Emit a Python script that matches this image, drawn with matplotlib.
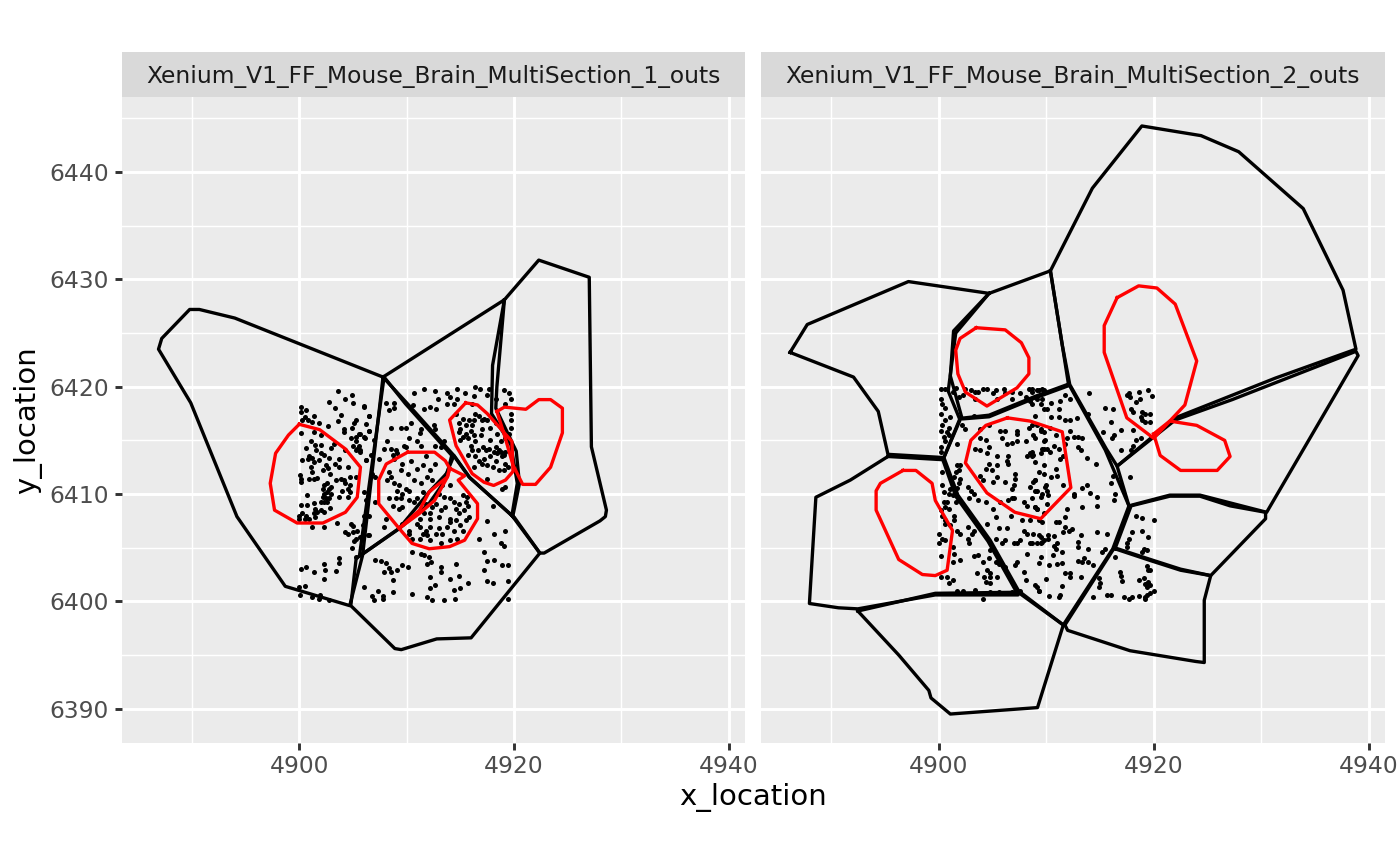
import matplotlib
matplotlib.use("Agg")
import matplotlib.pyplot as plt
from matplotlib.patches import Rectangle

panel_titles = [
    "Xenium_V1_FF_Mouse_Brain_MultiSection_1_outs",
    "Xenium_V1_FF_Mouse_Brain_MultiSection_2_outs",
]
x_ticks = [4900, 4920, 4940]
x_minor = [4890, 4910, 4930]
y_ticks = [6390, 6400, 6410, 6420, 6430, 6440]
y_minor = [6395, 6405, 6415, 6425, 6435, 6445]

# cell boundaries, section 1
left_black = [
    [(4907.8, 6420.9), (4894.0, 6426.4), (4890.7, 6427.2), (4889.8, 6427.2), (4887.2, 6424.5), (4886.9, 6423.5),
     (4889.9, 6418.5), (4894.2, 6407.9), (4898.7, 6401.4), (4904.7, 6399.6), (4905.9, 6404.3), (4907.8, 6420.9)],
    [(4907.9, 6420.9), (4905.6, 6404.2), (4909.3, 6406.8), (4912.1, 6410.2), (4913.8, 6412.0), (4914.2, 6413.6),
     (4909.9, 6418.4), (4907.9, 6420.9)],
    [(4907.8, 6420.9), (4919.1, 6428.1), (4918.0, 6422.0), (4917.9, 6417.5), (4919.7, 6414.6), (4920.3, 6411.0),
     (4919.8, 6408.0), (4915.8, 6411.6), (4914.3, 6413.7), (4910.0, 6418.5), (4907.8, 6420.9)],
    [(4919.8, 6408.0), (4922.4, 6404.5), (4916.0, 6396.6), (4912.8, 6396.5), (4909.5, 6395.5), (4908.9, 6395.6),
     (4904.8, 6399.6), (4905.3, 6404.0), (4909.2, 6406.7), (4912.0, 6409.0), (4913.2, 6410.7), (4914.2, 6413.1),
     (4914.4, 6413.6), (4915.9, 6411.5), (4919.9, 6407.9)],
    [(4919.1, 6428.1), (4922.3, 6431.8), (4927.0, 6430.2), (4927.2, 6414.4), (4928.6, 6408.5), (4928.5, 6407.9),
     (4928.0, 6407.5), (4922.8, 6404.5), (4922.4, 6404.5), (4919.9, 6408.0), (4920.5, 6411.0), (4920.2, 6414.0),
     (4918.3, 6418.0), (4918.4, 6420.0), (4919.1, 6428.1)],
]

# nucleus boundaries, section 1
left_red = [
    [(4900.0, 6416.5), (4901.9, 6416.0), (4904.3, 6414.2), (4905.7, 6412.5), (4905.4, 6409.7), (4904.3, 6408.3),
     (4902.2, 6407.3), (4899.8, 6407.3), (4897.7, 6408.5), (4897.3, 6411.0), (4897.8, 6413.8), (4899.0, 6415.5),
     (4900.0, 6416.5)],
    [(4910.1, 6413.9), (4912.6, 6413.9), (4913.6, 6413.1), (4914.0, 6412.4), (4913.8, 6411.6), (4912.1, 6410.2),
     (4911.2, 6408.5), (4909.3, 6406.8), (4907.4, 6409.1), (4907.4, 6411.3), (4908.1, 6412.8), (4910.1, 6413.9)],
    [(4914.0, 6412.4), (4915.4, 6411.7), (4914.8, 6411.3), (4916.6, 6409.1), (4916.6, 6407.7), (4915.4, 6405.7),
     (4914.0, 6405.1), (4912.1, 6404.9), (4910.5, 6405.4), (4909.3, 6406.8), (4911.2, 6408.2), (4912.6, 6409.4),
     (4913.8, 6411.6), (4914.0, 6412.4)],
    [(4915.5, 6418.5), (4916.6, 6418.3), (4917.5, 6417.5), (4919.8, 6414.9), (4919.9, 6412.1), (4919.2, 6411.3),
     (4918.1, 6410.8), (4917.2, 6411.1), (4916.1, 6411.9), (4914.6, 6414.5), (4914.0, 6416.9), (4915.5, 6418.5)],
    [(4918.4, 6417.7), (4919.1, 6418.1), (4921.1, 6417.9), (4922.3, 6418.8), (4923.4, 6418.8), (4924.5, 6418.0),
     (4924.5, 6415.7), (4923.4, 6412.5), (4922.0, 6410.9), (4920.8, 6410.9), (4919.9, 6412.7), (4919.1, 6415.5),
     (4918.4, 6417.7)],
]

# transcript positions, section 1
left_points = [
    (4903.6, 6419.6), (4904.9, 6419.2), (4904.3, 6418.9), (4902.8, 6418.6), (4905.0, 6418.5), (4906.0, 6418.2),
    (4900.2, 6418.1), (4903.3, 6418.0), (4900.6, 6417.8), (4900.2, 6417.6), (4903.9, 6417.4), (4906.5, 6417.3),
    (4901.4, 6417.3), (4900.5, 6417.2), (4900.8, 6416.9), (4903.6, 6416.8), (4900.3, 6416.9), (4901.2, 6416.7),
    (4901.8, 6416.6), (4905.3, 6416.9), (4905.1, 6416.6), (4906.2, 6416.5), (4902.7, 6416.3), (4904.9, 6416.2),
    (4904.2, 6416.1), (4906.5, 6415.9), (4900.2, 6415.7), (4901.4, 6415.8), (4902.0, 6415.5), (4904.2, 6415.8),
    (4905.7, 6415.6), (4904.8, 6415.2), (4905.3, 6415.3), (4906.1, 6415.2), (4901.1, 6414.9), (4903.2, 6414.7),
    (4902.0, 6414.6), (4901.5, 6414.6), (4900.6, 6414.3), (4905.0, 6414.5), (4905.6, 6414.5), (4903.0, 6414.3),
    (4905.3, 6414.1), (4905.7, 6414.1), (4901.6, 6414.1), (4904.3, 6414.1), (4900.9, 6413.5), (4901.2, 6413.4),
    (4902.3, 6413.6), (4902.8, 6413.4), (4903.7, 6413.3), (4900.3, 6413.2), (4901.8, 6413.2), (4906.2, 6413.2),
    (4901.4, 6413.0), (4903.3, 6412.8), (4903.7, 6412.5), (4904.5, 6412.5), (4901.1, 6412.5), (4902.5, 6412.7),
    (4902.7, 6412.4), (4901.2, 6412.1), (4900.1, 6411.8), (4902.2, 6412.2), (4901.7, 6411.5), (4902.9, 6411.9),
    (4900.2, 6411.4), (4900.9, 6411.4), (4901.4, 6411.4), (4903.4, 6411.3), (4903.9, 6411.4), (4904.7, 6411.6),
    (4905.3, 6411.6), (4900.2, 6411.1), (4902.6, 6411.0), (4902.3, 6410.8), (4904.3, 6411.0), (4904.5, 6410.5),
    (4902.2, 6410.5), (4902.8, 6410.5), (4904.0, 6410.3), (4904.7, 6410.2), (4902.3, 6410.0), (4906.0, 6410.2),
    (4900.7, 6409.9), (4903.0, 6410.0), (4903.7, 6409.7), (4904.5, 6409.7), (4902.5, 6409.6), (4902.8, 6409.6),
    (4902.3, 6409.3), (4901.4, 6409.2), (4900.2, 6409.0), (4900.7, 6409.0), (4902.0, 6408.5), (4901.5, 6408.6),
    (4902.9, 6408.7), (4902.3, 6408.3), (4901.7, 6408.3), (4900.0, 6408.0), (4900.6, 6408.0), (4900.0, 6407.7),
    (4901.5, 6407.9), (4900.9, 6407.7), (4901.2, 6406.9), (4902.3, 6406.9), (4903.5, 6407.3), (4904.8, 6407.2),
    (4905.0, 6407.0), (4904.3, 6406.5), (4904.5, 6406.3), (4905.0, 6406.5), (4905.4, 6406.6), (4905.3, 6405.8),
    (4905.1, 6405.6), (4905.9, 6406.0), (4906.4, 6406.2), (4904.9, 6405.0), (4905.3, 6404.1), (4903.7, 6404.0),
    (4903.7, 6403.6), (4902.3, 6403.5), (4900.6, 6403.2), (4900.2, 6403.0), (4902.4, 6402.9), (4903.4, 6402.8),
    (4901.4, 6402.7), (4902.3, 6402.1), (4900.5, 6401.4), (4900.0, 6401.3), (4900.1, 6400.6), (4901.2, 6400.4),
    (4901.9, 6400.6), (4901.8, 6400.2), (4902.8, 6400.1),
    (4911.6, 6419.8), (4910.7, 6419.4), (4912.6, 6419.6), (4913.8, 6419.4), (4914.7, 6419.8), (4916.4, 6420.0),
    (4916.8, 6419.8), (4917.7, 6419.8), (4919.1, 6419.7), (4919.5, 6419.4), (4915.4, 6419.4), (4912.9, 6418.9),
    (4914.0, 6419.0), (4914.7, 6418.9), (4916.3, 6419.1), (4917.5, 6419.2), (4918.3, 6418.9), (4919.7, 6418.9),
    (4906.0, 6418.1), (4908.1, 6418.5), (4908.8, 6418.5), (4908.4, 6417.8), (4908.8, 6418.0), (4910.6, 6418.3),
    (4911.6, 6417.9), (4912.2, 6418.1), (4912.7, 6417.9), (4913.8, 6418.4), (4914.4, 6418.4), (4916.1, 6418.4),
    (4916.4, 6417.5), (4919.2, 6418.4), (4906.5, 6417.3), (4914.6, 6417.5), (4915.2, 6417.0), (4917.2, 6417.0),
    (4916.3, 6416.9), (4917.5, 6416.9), (4919.7, 6417.5), (4919.7, 6416.9), (4910.4, 6416.6), (4908.5, 6416.2),
    (4909.5, 6416.2), (4909.9, 6416.2), (4911.3, 6416.1), (4912.5, 6416.4), (4911.2, 6415.7), (4912.6, 6416.1),
    (4915.5, 6416.4), (4915.0, 6416.1), (4916.1, 6416.4), (4917.0, 6416.1), (4918.3, 6416.6), (4918.9, 6416.2),
    (4919.7, 6416.2), (4906.5, 6415.9), (4905.6, 6415.6), (4906.0, 6415.3), (4907.0, 6415.0), (4910.2, 6415.2),
    (4909.8, 6414.5), (4911.0, 6414.9), (4911.3, 6414.5), (4912.6, 6414.5), (4913.2, 6414.4), (4913.5, 6414.9),
    (4915.2, 6415.3), (4915.7, 6415.2), (4916.3, 6415.5), (4916.9, 6415.5), (4914.9, 6415.8), (4916.4, 6414.9),
    (4917.1, 6414.4), (4917.8, 6415.0), (4918.8, 6414.9), (4908.2, 6414.9), (4907.9, 6414.2), (4908.5, 6414.2),
    (4909.0, 6414.1), (4909.1, 6413.8), (4917.7, 6414.2), (4918.6, 6414.1), (4919.2, 6413.9), (4918.9, 6413.5),
    (4916.1, 6414.1), (4915.7, 6413.6), (4916.4, 6413.5), (4905.7, 6413.9), (4906.7, 6413.6), (4907.4, 6413.3),
    (4908.7, 6413.6), (4906.2, 6413.2), (4917.2, 6413.3), (4917.8, 6413.5), (4918.3, 6413.1), (4919.2, 6412.8),
    (4910.4, 6413.1), (4909.6, 6412.8), (4911.5, 6412.7), (4911.0, 6412.3), (4909.5, 6412.2), (4910.1, 6411.9),
    (4912.6, 6412.8), (4917.0, 6412.8), (4916.3, 6412.5), (4918.6, 6412.2), (4908.4, 6412.1), (4908.2, 6411.3),
    (4908.5, 6411.6), (4907.1, 6411.6), (4911.9, 6411.6), (4912.4, 6411.3), (4911.3, 6411.0), (4909.9, 6410.5),
    (4909.1, 6410.3), (4909.6, 6410.0), (4908.4, 6409.6), (4909.0, 6409.6), (4909.5, 6409.6), (4910.2, 6409.4),
    (4911.0, 6409.6), (4911.8, 6409.1), (4913.5, 6409.7), (4914.0, 6409.6), (4914.4, 6409.3), (4915.2, 6409.9),
    (4915.6, 6409.7), (4918.9, 6410.5), (4919.2, 6410.7), (4906.2, 6409.4), (4907.1, 6409.3), (4908.7, 6408.9),
    (4909.3, 6408.6), (4906.0, 6408.0), (4905.9, 6407.1), (4906.5, 6408.0), (4908.1, 6407.7), (4907.9, 6406.9),
    (4906.5, 6406.2), (4905.7, 6406.0), (4918.0, 6408.9), (4917.5, 6407.5), (4919.2, 6406.6), (4918.1, 6406.3),
    (4916.7, 6405.8), (4918.8, 6405.4), (4919.1, 6405.2), (4917.2, 6404.6), (4917.5, 6403.8), (4918.1, 6403.9),
    (4918.9, 6403.4), (4919.4, 6403.4), (4917.2, 6402.9), (4917.5, 6401.9), (4918.0, 6401.7), (4919.4, 6401.9),
    (4919.4, 6400.2), (4907.1, 6403.9), (4907.6, 6403.8), (4908.1, 6403.6), (4908.4, 6403.1), (4907.9, 6402.7),
    (4908.5, 6402.7), (4908.7, 6402.0), (4909.1, 6402.9), (4909.6, 6403.4), (4910.1, 6403.2), (4910.5, 6404.6),
    (4911.3, 6404.4), (4911.6, 6404.3), (4912.1, 6404.1), (4912.3, 6403.7), (4911.9, 6403.5), (4913.2, 6403.2),
    (4914.6, 6403.5), (4913.2, 6402.7), (4912.2, 6402.3), (4914.0, 6402.1), (4914.9, 6402.4), (4915.7, 6401.7),
    (4912.6, 6401.5), (4912.2, 6401.2), (4914.4, 6401.1), (4915.0, 6401.2), (4910.5, 6400.7), (4911.9, 6400.4),
    (4912.4, 6400.1), (4913.5, 6400.1), (4914.5, 6400.2), (4906.0, 6401.3), (4907.3, 6401.0), (4908.7, 6400.9),
    (4906.8, 6400.5), (4907.8, 6400.5), (4907.0, 6400.1), (4907.8, 6400.2),
    (4914.0, 6410.8), (4913.3, 6410.8), (4913.0, 6410.0), (4912.7, 6409.1), (4912.2, 6408.2), (4911.6, 6408.2),
    (4911.2, 6407.7), (4911.0, 6407.2), (4912.2, 6407.7), (4913.0, 6407.9), (4914.0, 6407.7), (4914.9, 6408.2),
    (4915.3, 6408.5), (4915.7, 6408.9), (4914.6, 6408.6), (4913.6, 6408.8), (4913.0, 6406.8), (4913.3, 6406.3),
    (4911.8, 6406.6), (4911.9, 6406.2), (4911.2, 6405.8), (4910.2, 6406.3), (4914.4, 6406.6), (4915.2, 6406.6),
    (4914.7, 6405.8), (4913.2, 6405.4), (4912.2, 6405.7), (4914.0, 6407.4), (4915.5, 6407.6), (4915.8, 6407.9),
    (4915.0, 6407.1), (4909.6, 6407.2), (4910.2, 6406.6),
    (4914.9, 6416.6), (4915.8, 6416.9), (4916.7, 6417.3), (4915.5, 6415.6), (4916.0, 6415.9), (4915.0, 6415.0),
    (4916.0, 6414.5), (4916.6, 6414.1), (4917.4, 6414.1), (4918.1, 6413.9), (4918.4, 6413.8), (4918.8, 6413.9),
    (4919.1, 6413.6), (4918.3, 6414.4), (4916.7, 6413.1), (4917.5, 6412.7), (4918.0, 6412.5), (4919.1, 6412.2),
    (4917.5, 6411.4), (4919.4, 6412.5), (4917.0, 6416.9), (4917.8, 6416.2), (4918.4, 6415.6), (4919.2, 6415.2),
    (4919.5, 6415.6), (4909.9, 6414.4), (4908.8, 6413.3), (4911.8, 6413.5), (4912.2, 6412.2), (4910.7, 6411.3),
    (4908.8, 6411.0), (4909.3, 6410.8), (4910.2, 6410.3), (4909.6, 6408.8), (4910.7, 6409.3), (4911.5, 6410.2),
    (4912.4, 6408.8), (4913.2, 6408.5), (4914.9, 6409.1), (4915.5, 6409.3), (4911.2, 6406.9), (4912.2, 6406.9),
    (4913.8, 6406.9), (4914.6, 6407.6), (4912.7, 6406.3), (4911.5, 6406.3), (4914.0, 6405.7), (4910.5, 6405.8),
    (4906.8, 6411.9), (4902.6, 6410.2), (4902.2, 6409.7), (4902.6, 6409.3), (4903.0, 6410.7), (4904.7, 6410.8),
    (4904.2, 6411.3), (4900.8, 6413.3), (4902.0, 6413.8), (4905.3, 6414.9), (4905.4, 6414.2), (4901.4, 6408.2),
    (4900.5, 6407.7), (4900.3, 6408.2), (4902.0, 6409.3),
]

# cell boundaries, section 2
right_black = [
    [(4910.4, 6430.8), (4914.3, 6438.5), (4918.9, 6444.3), (4924.4, 6443.4), (4927.9, 6441.9), (4933.9, 6436.6),
     (4937.6, 6429.0), (4938.8, 6423.5), (4931.3, 6420.8), (4922.0, 6417.1), (4916.6, 6412.6), (4915.6, 6414.2),
     (4912.2, 6420.2), (4911.5, 6423.9), (4910.4, 6430.8)],
    [(4886.2, 6423.2), (4887.8, 6425.8), (4897.2, 6429.8), (4904.7, 6428.7), (4901.6, 6425.0), (4900.9, 6419.6),
     (4902.0, 6416.9), (4900.5, 6413.4), (4895.3, 6413.7), (4894.4, 6417.7), (4892.1, 6420.9), (4886.2, 6423.2)],
    [(4904.7, 6428.7), (4910.4, 6430.8), (4911.5, 6423.9), (4912.1, 6420.1), (4909.1, 6419.0), (4904.7, 6417.2),
     (4902.2, 6417.0), (4901.1, 6421.0), (4901.4, 6425.2), (4904.7, 6428.7)],
    [(4902.0, 6417.05), (4904.7, 6417.35), (4909.1, 6419.15), (4912.1, 6420.25), (4915.5, 6414.1), (4917.7, 6408.9),
     (4916.2, 6404.9), (4911.6, 6397.8), (4907.6, 6400.7), (4904.8, 6405.7), (4901.8, 6409.9), (4900.5, 6413.4),
     (4902.0, 6417.05)],
    [(4895.3, 6413.5), (4900.4, 6413.2), (4901.6, 6409.8), (4904.6, 6405.6), (4907.4, 6400.6), (4899.7, 6400.6),
     (4892.5, 6399.3), (4890.7, 6399.4), (4888.0, 6399.8), (4888.6, 6409.7), (4891.8, 6411.3), (4895.3, 6413.5)],
    [(4892.5, 6399.1), (4899.7, 6400.75), (4907.6, 6400.85), (4911.6, 6397.8), (4909.2, 6390.1), (4901.1, 6389.5),
     (4899.3, 6391.0), (4899.1, 6391.7), (4896.3, 6395.0), (4892.5, 6399.1)],
    [(4911.75, 6397.8), (4916.35, 6405.0), (4919.7, 6403.9), (4922.5, 6403.0), (4925.3, 6402.4), (4924.7, 6400.1),
     (4924.7, 6394.3), (4923.9, 6394.4), (4917.8, 6395.4), (4912.0, 6397.3), (4911.75, 6397.8)],
    [(4916.4, 6404.9), (4917.9, 6408.9), (4921.5, 6409.8), (4924.3, 6409.8), (4927.1, 6408.9), (4930.4, 6408.3),
     (4930.4, 6407.7), (4925.3, 6402.4), (4922.5, 6402.9), (4919.7, 6403.8), (4916.4, 6404.9)],
    [(4917.7, 6408.9), (4916.6, 6412.6), (4922.0, 6416.9), (4927.3, 6418.8), (4938.8, 6423.3), (4939.0, 6422.9),
     (4930.5, 6408.3), (4924.3, 6409.9), (4921.5, 6409.9), (4917.7, 6408.9)],
]

# nucleus boundaries, section 2
right_red = [
    [(4903.5, 6425.5), (4906.2, 6425.3), (4907.7, 6424.1), (4908.4, 6422.7), (4908.4, 6421.2), (4907.3, 6419.9),
     (4904.5, 6418.2), (4902.5, 6419.5), (4901.8, 6421.2), (4901.6, 6423.4), (4902.0, 6424.5), (4903.5, 6425.5)],
    [(4916.6, 6428.3), (4918.6, 6429.4), (4920.3, 6429.2), (4922.0, 6427.7), (4924.0, 6422.4), (4922.9, 6418.3),
     (4920.0, 6415.2), (4917.5, 6417.1), (4915.4, 6423.2), (4915.4, 6425.7), (4916.6, 6428.3)],
    [(4920.0, 6415.6), (4921.5, 6416.8), (4924.0, 6416.4), (4926.6, 6415.0), (4927.1, 6413.5), (4925.9, 6412.2),
     (4922.5, 6412.2), (4920.6, 6413.6), (4920.0, 6415.6)],
    [(4906.4, 6417.1), (4908.5, 6416.8), (4911.5, 6415.8), (4912.3, 6410.6), (4909.5, 6407.7), (4907.1, 6408.3),
     (4904.5, 6410.1), (4902.5, 6412.9), (4903.0, 6415.0), (4904.4, 6416.4), (4906.4, 6417.1)],
    [(4896.7, 6412.2), (4897.9, 6412.2), (4899.4, 6411.0), (4899.7, 6409.4), (4901.3, 6406.6), (4900.8, 6402.9),
     (4899.7, 6402.4), (4898.5, 6402.5), (4896.3, 6403.9), (4894.2, 6408.5), (4894.2, 6410.3), (4894.6, 6411.0),
     (4896.7, 6412.2)],
]

# transcript positions, section 2
right_points = [
    (4900.2, 6419.8), (4900.6, 6419.8), (4901.6, 6419.9), (4902.5, 6419.8), (4903.0, 6419.7), (4903.4, 6419.5),
    (4904.1, 6419.8), (4904.5, 6419.8), (4905.3, 6419.7), (4906.1, 6419.8), (4906.8, 6419.5), (4907.6, 6419.4),
    (4908.4, 6419.8), (4908.7, 6419.5), (4909.3, 6419.7), (4909.8, 6419.7), (4900.2, 6418.9), (4900.3, 6418.4),
    (4901.3, 6419.5), (4901.9, 6419.0), (4902.3, 6419.2), (4903.4, 6418.9), (4903.7, 6419.5), (4905.1, 6419.4),
    (4905.4, 6418.9), (4906.2, 6419.4), (4906.8, 6418.9), (4908.1, 6419.0), (4909.2, 6418.9), (4908.7, 6418.4),
    (4900.6, 6418.0), (4900.2, 6417.5), (4901.1, 6417.2), (4900.6, 6416.9), (4900.3, 6416.4), (4900.2, 6415.9),
    (4901.0, 6416.2), (4900.8, 6415.8), (4902.5, 6416.1), (4902.2, 6416.4), (4903.3, 6417.3), (4904.7, 6416.4),
    (4903.9, 6416.1), (4906.2, 6415.9), (4905.7, 6415.9), (4907.3, 6415.9), (4907.3, 6415.6), (4909.5, 6416.1),
    (4908.4, 6416.2), (4900.5, 6415.3), (4901.0, 6415.5), (4901.7, 6414.7), (4900.2, 6414.4), (4900.6, 6414.9),
    (4903.4, 6414.2), (4903.9, 6415.2), (4904.4, 6415.0), (4904.7, 6414.4), (4905.9, 6415.2), (4906.4, 6414.7),
    (4906.8, 6414.8), (4907.3, 6414.9), (4908.1, 6414.9), (4909.0, 6415.2), (4909.8, 6414.9), (4900.2, 6413.9),
    (4903.9, 6414.1), (4904.5, 6413.8), (4905.4, 6413.5), (4906.5, 6413.5), (4908.2, 6413.5), (4908.7, 6413.9),
    (4908.8, 6413.6), (4909.6, 6414.2), (4909.5, 6413.8), (4901.7, 6412.7), (4902.0, 6412.7), (4901.9, 6412.2),
    (4901.6, 6412.1), (4900.3, 6412.1), (4902.0, 6411.4), (4901.4, 6411.6), (4904.7, 6412.8), (4905.4, 6412.7),
    (4906.4, 6413.1), (4906.5, 6412.8), (4907.1, 6411.9), (4904.4, 6412.3), (4905.0, 6412.2), (4903.9, 6411.7),
    (4905.4, 6411.6), (4907.1, 6411.4), (4904.1, 6411.3), (4905.1, 6411.1), (4906.2, 6411.1), (4907.0, 6410.8),
    (4901.9, 6411.0), (4900.3, 6410.8), (4901.7, 6410.6), (4902.7, 6410.7), (4901.1, 6410.5), (4903.0, 6410.3),
    (4909.0, 6411.3), (4908.5, 6410.7), (4909.2, 6410.3), (4906.8, 6410.5), (4909.9, 6410.7), (4901.0, 6410.0),
    (4901.3, 6409.9), (4903.3, 6410.0), (4900.5, 6410.2), (4902.8, 6409.6), (4900.8, 6409.3), (4900.5, 6409.3),
    (4901.6, 6409.3), (4900.6, 6408.8), (4903.7, 6409.4), (4904.4, 6409.3), (4905.1, 6408.6), (4906.8, 6409.6),
    (4907.0, 6409.6), (4906.5, 6409.4), (4907.9, 6409.3), (4909.0, 6408.8), (4909.2, 6408.6), (4905.7, 6409.3),
    (4908.2, 6408.9), (4900.2, 6408.5), (4901.0, 6408.6), (4901.4, 6408.0), (4901.4, 6407.6), (4900.3, 6408.0),
    (4900.6, 6407.6), (4900.6, 6407.2), (4901.1, 6407.1), (4905.3, 6407.9), (4904.5, 6407.2), (4906.7, 6408.0),
    (4907.8, 6407.6), (4908.5, 6407.6), (4909.3, 6407.6), (4909.8, 6408.2), (4900.0, 6406.3), (4900.3, 6405.8),
    (4900.6, 6405.7), (4901.7, 6406.6), (4902.0, 6406.3), (4902.7, 6406.9), (4903.3, 6406.6), (4903.1, 6406.3),
    (4905.6, 6406.8), (4906.4, 6406.8), (4907.9, 6406.6), (4908.2, 6406.3), (4908.8, 6406.3), (4909.5, 6406.0),
    (4909.8, 6405.7), (4900.0, 6405.4), (4901.3, 6405.1), (4902.7, 6405.8), (4902.8, 6405.4), (4905.3, 6405.8),
    (4906.2, 6405.7), (4905.9, 6405.4), (4907.0, 6405.4), (4907.3, 6405.4), (4908.5, 6405.4), (4907.6, 6405.7),
    (4909.2, 6405.4), (4901.4, 6404.4), (4900.2, 6404.2), (4901.3, 6403.7), (4902.0, 6403.9), (4903.3, 6404.2),
    (4903.7, 6404.3), (4904.8, 6404.8), (4904.1, 6403.7), (4904.7, 6404.0), (4905.3, 6403.7), (4905.6, 6403.5),
    (4906.2, 6403.2), (4907.3, 6403.7), (4908.2, 6404.4), (4907.1, 6403.4), (4900.2, 6402.3), (4900.8, 6402.3),
    (4901.0, 6401.7), (4901.3, 6402.0), (4903.6, 6402.6), (4904.5, 6402.9), (4904.8, 6402.6), (4904.8, 6402.3),
    (4905.4, 6402.3), (4904.2, 6402.3), (4904.4, 6401.8), (4904.8, 6401.7), (4907.9, 6402.7), (4908.1, 6402.0),
    (4909.0, 6401.5), (4909.3, 6401.0), (4901.7, 6401.0), (4902.3, 6401.0), (4903.4, 6401.1), (4904.8, 6400.9),
    (4905.6, 6400.9), (4906.8, 6400.9), (4904.1, 6400.2), (4907.6, 6401.0),
    (4908.7, 6419.8), (4909.6, 6419.8), (4909.2, 6419.7), (4909.6, 6418.9), (4908.5, 6418.7), (4910.5, 6418.5),
    (4911.3, 6418.7), (4911.8, 6419.2), (4912.2, 6418.9), (4914.0, 6419.4), (4909.5, 6418.4), (4909.8, 6417.9),
    (4910.1, 6417.9), (4911.2, 6417.9), (4909.0, 6417.3), (4910.5, 6417.2), (4911.2, 6417.2), (4911.8, 6416.9),
    (4912.2, 6416.9), (4912.9, 6417.1), (4913.9, 6417.5), (4909.2, 6416.4), (4908.7, 6416.4), (4909.5, 6415.9),
    (4910.4, 6416.2), (4912.2, 6415.9), (4911.9, 6415.2), (4913.0, 6415.3), (4913.3, 6415.2), (4912.6, 6415.3),
    (4908.8, 6415.5), (4909.8, 6415.8), (4909.9, 6415.0), (4910.9, 6415.5), (4911.8, 6414.7), (4913.0, 6414.4),
    (4913.2, 6414.1), (4910.7, 6414.5), (4911.2, 6414.2), (4910.1, 6414.2), (4909.8, 6414.2), (4908.5, 6413.8),
    (4908.7, 6413.5), (4910.4, 6413.9), (4911.6, 6413.5), (4913.8, 6413.4), (4914.6, 6412.8), (4911.3, 6413.3),
    (4909.0, 6413.0), (4909.8, 6412.7), (4910.9, 6412.3), (4909.3, 6412.1), (4909.8, 6411.9), (4910.5, 6411.6),
    (4911.0, 6411.7), (4908.8, 6411.1), (4909.0, 6411.3), (4910.0, 6410.8), (4911.6, 6410.8), (4910.1, 6410.3),
    (4909.6, 6410.0), (4909.0, 6410.3), (4913.3, 6410.6), (4913.8, 6410.8), (4912.6, 6410.0), (4912.6, 6409.8),
    (4914.1, 6410.1), (4914.7, 6409.7), (4910.2, 6409.9), (4909.5, 6409.7), (4908.7, 6409.6), (4910.1, 6409.1),
    (4913.3, 6408.8), (4914.7, 6408.9), (4911.9, 6408.6), (4909.0, 6408.8), (4909.2, 6408.6), (4911.8, 6407.9),
    (4909.6, 6407.4), (4910.9, 6407.4), (4911.2, 6407.4), (4911.8, 6406.9), (4911.6, 6406.5), (4912.4, 6406.7),
    (4912.1, 6406.6), (4913.2, 6406.2), (4914.7, 6406.5), (4915.7, 6406.3), (4909.3, 6406.2), (4910.2, 6406.2),
    (4910.2, 6405.8), (4910.7, 6406.1), (4909.6, 6405.5), (4909.5, 6405.4), (4908.7, 6405.4), (4911.0, 6405.4),
    (4910.7, 6405.2), (4910.9, 6404.9), (4913.0, 6405.5), (4913.0, 6405.1), (4913.9, 6404.9), (4915.2, 6404.6),
    (4915.5, 6404.9), (4911.5, 6404.6), (4910.6, 6404.3), (4909.5, 6404.1), (4909.3, 6403.6), (4910.3, 6403.4),
    (4911.0, 6403.5), (4911.5, 6403.6), (4913.0, 6403.8), (4913.5, 6404.0), (4913.3, 6403.7), (4913.9, 6403.7),
    (4914.4, 6403.4), (4911.8, 6402.6), (4912.2, 6402.6), (4912.2, 6402.3), (4913.2, 6402.3), (4910.0, 6402.1),
    (4909.2, 6401.3), (4909.3, 6401.0), (4911.5, 6401.4), (4910.3, 6400.5), (4911.2, 6400.4), (4911.3, 6400.6),
    (4914.4, 6400.4), (4915.7, 6400.6), (4916.0, 6400.6), (4917.2, 6400.4), (4917.7, 6400.2), (4918.0, 6400.4),
    (4918.6, 6400.5), (4919.2, 6400.4), (4919.4, 6400.6), (4919.2, 6400.2),
    (4915.5, 6418.0), (4916.2, 6417.9), (4916.0, 6416.7), (4916.3, 6415.5), (4916.1, 6415.2), (4915.3, 6415.8),
    (4917.0, 6416.0), (4918.1, 6416.0), (4917.7, 6419.4), (4917.8, 6419.0), (4918.6, 6419.5), (4919.5, 6419.7),
    (4919.8, 6419.1), (4918.7, 6418.9), (4918.4, 6418.6), (4917.9, 6417.9), (4917.5, 6419.2), (4918.1, 6417.6),
    (4918.9, 6417.6), (4919.2, 6417.5), (4919.7, 6417.5), (4918.8, 6417.2), (4919.2, 6416.7), (4919.7, 6416.7),
    (4918.9, 6416.9), (4918.8, 6415.2), (4918.4, 6415.0), (4918.1, 6414.5), (4917.9, 6414.1), (4917.0, 6414.1),
    (4917.8, 6411.6), (4916.2, 6411.7), (4916.0, 6411.0), (4916.4, 6410.0), (4916.3, 6409.4),
    (4918.4, 6408.0), (4918.9, 6407.8), (4920.0, 6407.6), (4918.0, 6406.5), (4918.9, 6406.6), (4919.5, 6406.0),
    (4917.7, 6405.8), (4917.5, 6405.4), (4917.5, 6405.1), (4919.1, 6404.9), (4919.4, 6404.8), (4918.9, 6404.6),
    (4916.4, 6404.1), (4919.4, 6403.3), (4919.7, 6402.9), (4919.5, 6402.9), (4916.9, 6402.7), (4917.0, 6402.4),
    (4917.1, 6401.9), (4918.6, 6402.0), (4919.1, 6402.2), (4919.5, 6401.8), (4919.2, 6401.6), (4919.7, 6401.5),
    (4919.4, 6401.3), (4920.0, 6401.0), (4919.7, 6400.8), (4914.9, 6402.2), (4915.0, 6401.7), (4914.9, 6401.3),
]

panels = [
    (left_points, left_black, left_red),
    (right_points, right_black, right_red),
]

fig = plt.figure(figsize=(14, 8.65), dpi=100)
W, H = 1400, 865
panel_boxes = [(122, 745), (761, 1385)]
top, bottom = 97, 743

for i, (points, black, red) in enumerate(panels):
    x0, x1 = panel_boxes[i]
    ax = fig.add_axes([x0 / W, 1 - bottom / H, (x1 - x0) / W, (bottom - top) / H])
    ax.set_facecolor("#EBEBEB")
    ax.set_xlim(4883.5, 4941.5)
    ax.set_ylim(6386.8, 6447.0)
    for s in ax.spines.values():
        s.set_visible(False)

    ax.set_xticks(x_ticks)
    ax.set_xticks(x_minor, minor=True)
    ax.set_yticks(y_ticks)
    ax.set_yticks(y_minor, minor=True)
    ax.grid(which="major", color="white", linewidth=2.1)
    ax.grid(which="minor", color="white", linewidth=1.05)
    ax.set_axisbelow(True)
    ax.tick_params(which="minor", length=0)
    ax.tick_params(axis="x", which="major", length=5, width=2.1, color="#333333",
                   labelsize=16.8, labelcolor="#4D4D4D", pad=3.5)
    if i == 0:
        ax.tick_params(axis="y", which="major", length=5, width=2.1, color="#333333",
                       labelsize=16.8, labelcolor="#4D4D4D", pad=4.5)
    else:
        ax.tick_params(axis="y", which="major", length=0, labelleft=False)

    ax.scatter([p[0] for p in points], [p[1] for p in points], s=13, color="black", linewidths=0, zorder=2)
    for poly in black:
        ax.plot([p[0] for p in poly], [p[1] for p in poly], color="black", linewidth=2.4, zorder=3)
    for poly in red:
        ax.plot([p[0] for p in poly], [p[1] for p in poly], color="red", linewidth=2.4, zorder=4)

    # facet strip
    fig.add_artist(Rectangle((x0 / W, 1 - top / H), (x1 - x0) / W, 45 / H,
                             transform=fig.transFigure, facecolor="#D9D9D9", edgecolor="none"))
    fig.text((x0 + x1) / 2 / W, 1 - 76 / H, panel_titles[i], ha="center", va="center",
             fontsize=16.8, color="#1A1A1A")

fig.text(753 / W, 1 - 797 / H, "x_location", ha="center", va="center", fontsize=21)
fig.text(28 / W, 1 - 420 / H, "y_location", ha="center", va="center", rotation=90, fontsize=21)

fig.savefig("out.png", dpi=100)
plt.close(fig)
